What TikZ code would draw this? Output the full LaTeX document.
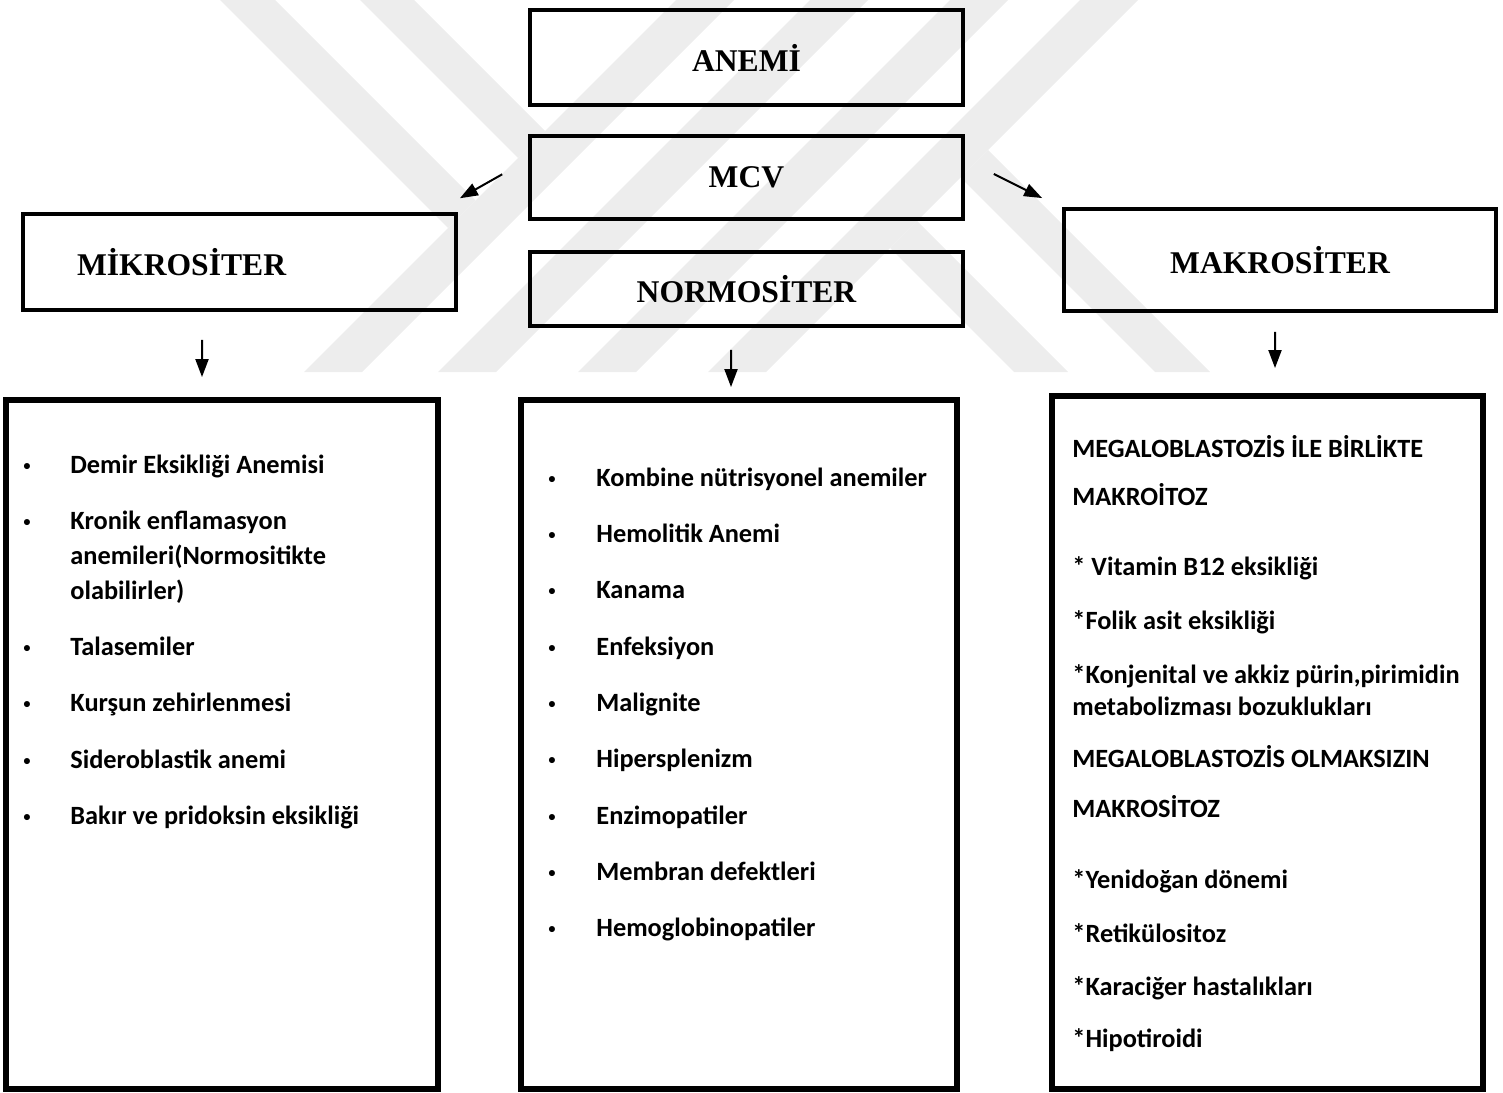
\documentclass[tikz,border=0pt]{standalone}
\usepackage{fontspec}
\setmainfont{Liberation Serif}
\newfontfamily\calibri{Carlito}
\newfontfamily\arialf{Liberation Sans}
\newcommand{\blt}{{\arialf\fontsize{12}{12}\selectfont •}}
\usetikzlibrary{arrows.meta, positioning}

\begin{document}
\begin{tikzpicture}[x=0.02cm, y=-0.02cm,
        head/.style={draw, line width=0.09cm, outer sep=0, minimum width=8.66cm, font=\fontsize{18}{22}\selectfont\bfseries},
        listbox/.style={draw, line width=0.12cm, outer sep=0},
        items/.style={inner sep=0, anchor=north west, font=\calibri\bfseries\fontsize{15}{19.84}\selectfont},
        arr/.style={-{Triangle[length=0.36cm, width=0.26cm]}, line width=0.04cm},
        wmark/.style={fill=black!7}]
        \useasboundingbox (0,0) rectangle (1503,1092);

        % watermark in the back
        \fill[wmark] (220,0) -- (275,0) -- (475.5,200.5) -- (448,228) -- cycle;
        \fill[wmark] (360,0) -- (414,0) -- (545,131) -- (518,158) -- cycle;
        \fill[wmark] (676,0) -- (734,0) -- (362,372) -- (304,372) -- cycle;
        \fill[wmark] (810,0) -- (868,0) -- (496,372) -- (438,372) -- cycle;
        \fill[wmark] (950,0) -- (1008,0) -- (636,372) -- (578,372) -- cycle;
        \fill[wmark] (1080,0) -- (1138,0) -- (766,372) -- (708,372) -- cycle;
        \fill[wmark] (1014,372) -- (1068,372) -- (917,221) -- (890,248) -- cycle;
        \fill[wmark] (1155,372) -- (1210,372) -- (988,150) -- (960.5,177.5) -- cycle;

        \node (anemi) [head, minimum height=1.9cm] at (746.5,57.5) {ANEMİ};
        \node (mcv) [head, minimum height=1.66cm, below=0.62cm of anemi] {MCV};
        \node (normo) [head, minimum height=1.48cm, below=0.66cm of mcv] {NORMOSİTER};
        \node (mikro) [head, minimum height=1.92cm, text width=6.5cm, inner xsep=1.08cm, align=left] at (239.5,262) {MİKROSİTER};
        \node (makro) [head, minimum width=8.64cm, minimum height=2.04cm] at (1280,260) {MAKROSİTER};

        \node (mikrolist) [listbox, minimum width=8.64cm, minimum height=13.78cm] at (222,744.5) {};
        \node (normolist) [listbox, minimum width=8.72cm, minimum height=13.78cm] at (739,744.5) {};
        \node (makrolist) [listbox, minimum width=8.62cm, minimum height=13.86cm] at (1267.5,742.5) {};

        \node (mikroitems) [items, below right=0.97cm and 0.34cm of mikrolist.north west] {%
            \begin{tabular}{@{}p{0.94cm}@{}l@{}}
                \blt & Demir Eksikliği Anemisi\\[12.2pt]
                \blt & Kronik enflamasyon\\
                     & anemileri(Normositikte\\
                     & olabilirler)\\[12.2pt]
                \blt & Talasemiler\\[12.2pt]
                \blt & Kurşun zehirlenmesi\\[12.2pt]
                \blt & Sideroblastik anemi\\[12.2pt]
                \blt & Bakır ve pridoksin eksikliği
            \end{tabular}};
        \node (normoitems) [items, below right=1.23cm and 0.54cm of normolist.north west] {%
            \begin{tabular}{@{}p{0.96cm}@{}l@{}}
                \blt & Kombine nütrisyonel anemiler\\[12.2pt]
                \blt & Hemolitik Anemi\\[12.2pt]
                \blt & Kanama\\[12.2pt]
                \blt & Enfeksiyon\\[12.2pt]
                \blt & Malignite\\[12.2pt]
                \blt & Hipersplenizm\\[12.2pt]
                \blt & Enzimopatiler\\[12.2pt]
                \blt & Membran defektleri\\[12.2pt]
                \blt & Hemoglobinopatiler
            \end{tabular}};
        \node (makroitems) [items, font=\calibri\bfseries\fontsize{15}{18.14}\selectfont, below right=0.77cm and 0.4cm of makrolist.north west] {%
            \begin{tabular}{@{}l@{}}
                MEGALOBLASTOZİS İLE BİRLİKTE\\[9.6pt]
                MAKROİTOZ\\[21.5pt]
                * Vitamin B12 eksikliği\\[12.5pt]
                *Folik asit eksikliği\\[12.5pt]
                *Konjenital ve akkiz pürin,pirimidin\\
                metabolizması bozuklukları\\[11.9pt]
                MEGALOBLASTOZİS OLMAKSIZIN\\[10.2pt]
                MAKROSİTOZ\\[22.1pt]
                *Yenidoğan dönemi\\[12.5pt]
                *Retikülositoz\\[11.9pt]
                *Karaciğer hastalıkları\\[11.9pt]
                *Hipotiroidi
            \end{tabular}};

        \draw[arr, shorten <=0.64cm, shorten >=0.64cm] (mcv.175) -- (mikro.14);
        \draw[arr, shorten <=0.69cm, shorten >=0.49cm] (mcv.5) -- (makro.north west);
        \draw[arr, shorten <=0.6cm, shorten >=0.46cm] ([xshift=-0.75cm]mikro.south) -- ([xshift=-0.4cm]mikrolist.north);
        \draw[arr, shorten <=0.48cm, shorten >=0.26cm] ([xshift=-0.31cm]normo.south) -- ([xshift=-0.16cm]normolist.north);
        \draw[arr, shorten <=0.42cm, shorten >=0.56cm] ([xshift=-0.1cm]makro.south) -- ([xshift=0.15cm]makrolist.north);
    \end{tikzpicture}
\end{document}
